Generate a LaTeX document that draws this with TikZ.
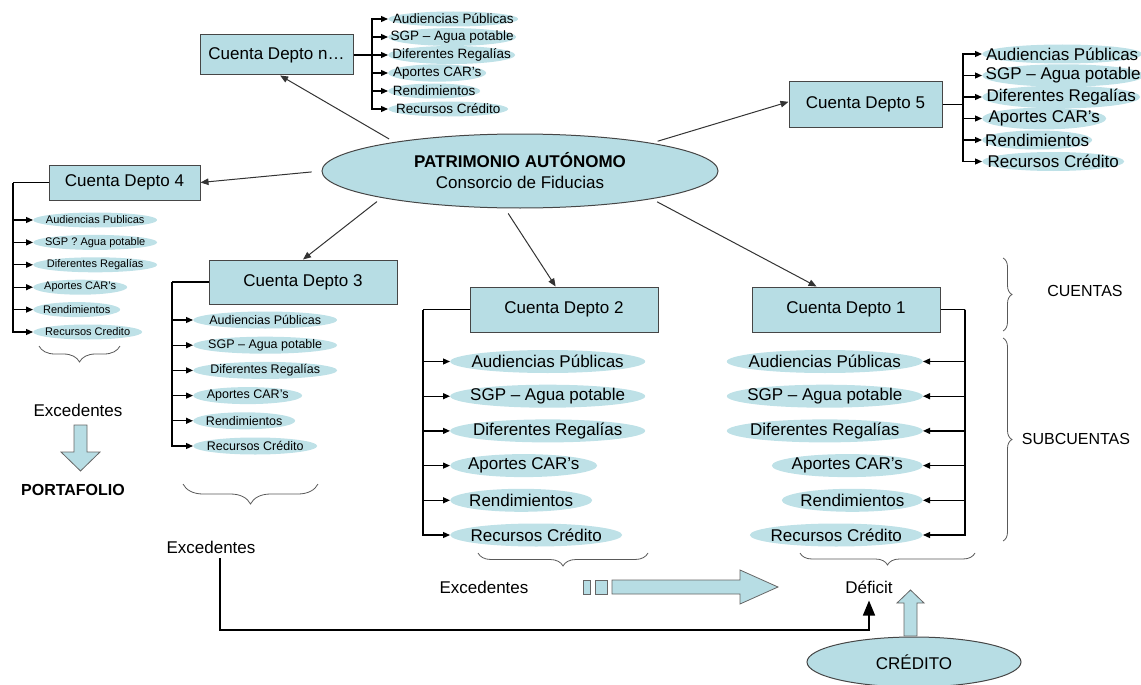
\documentclass[tikz,border=0pt]{standalone}
\usepackage{fontspec}
\setmainfont{Liberation Sans}
\usetikzlibrary{shapes.geometric,arrows.meta,decorations.pathreplacing}
\definecolor{lb}{RGB}{183,221,228}
\definecolor{hlc}{RGB}{190,225,231}
\definecolor{edge}{RGB}{70,70,70}
\newcommand\zw[1]{\makebox[0pt]{#1}}
\begin{document}
\begin{tikzpicture}[x=1pt,y=-1pt,
  box/.style={draw=edge, fill=lb, line width=1pt, inner sep=0pt, font=\fontsize{17}{20}\selectfont},
  hl/.style={ellipse, fill=hlc, inner sep=0pt},
  fn/.style={font=\fontsize{13.5}{16}\selectfont},
  ff/.style={font=\fontsize{17}{20}\selectfont},
  fc/.style={font=\fontsize{11}{13}\selectfont},
  ft/.style={font=\fontsize{12.5}{15}\selectfont},
  ln/.style={line width=1.2pt},
  arr/.style={line width=1.2pt, -{Triangle[length=7pt,width=6pt]}},
  carr/.style={draw=black!80, line width=1pt, shorten <=6pt, -{Triangle[length=8pt,width=6.5pt]}},
  lbl/.style={font=\fontsize{17}{20}\selectfont, inner sep=1pt},
  blk/.style={draw=black!60, fill=lb, line width=0.8pt},
  brc/.style={draw=black!65, line width=0.8pt, decorate, decoration={brace, amplitude=#1}},
]
\useasboundingbox (0,0) rectangle (1141,685);

% central ellipse
\node[ellipse, draw=edge, fill=lb, line width=1pt, minimum width=396pt, minimum height=74pt, inner sep=0pt, align=center, font=\fontsize{17}{21}\selectfont] (pa) at (520,171)
  {\textbf{PATRIMONIO AUTÓNOMO}\\Consorcio de Fiducias};

% account boxes
\node[box, minimum width=153pt, minimum height=40pt] (dn) at (276.5,55) {Cuenta Depto n…};
\node[box, minimum width=153pt, minimum height=45pt] (d5) at (865.5,104.5) {Cuenta Depto 5};
\node[box, minimum width=151pt, minimum height=35pt] (d4) at (124.5,182.5) {Cuenta Depto 4};
\node[box, minimum width=188pt, minimum height=44pt] (d3) at (303,282) {Cuenta Depto 3};
\node[box, minimum width=188pt, minimum height=45pt] (d2) at (564,309.5) {Cuenta Depto 2};
\node[box, minimum width=188pt, minimum height=45pt] (d1) at (846,309.5) {Cuenta Depto 1};

% connectors from central ellipse
\draw[carr] (pa.167) -- (dn.-80);
\draw[carr] (pa.12) -- (d5.178);
\draw[carr, shorten <=10pt] (pa.180) -- (d4.east);
\draw[carr] (pa.191) -- (d3.north);
\draw[carr] (pa.248) -- (d2.110);
\draw[carr] (pa.-12) -- (d1.142);

% Depto n sub-accounts
\foreach \i/\y/\w/\t in {1/19/130/Audiencias Públicas,2/37/128/SGP – Agua potable,3/55/127/Diferentes Regalías,4/73/98/Aportes CAR's,5/91/92/Rendimientos,6/109/120/Recursos Crédito}
  \node[hl, fn, minimum width=\w pt, minimum height=15pt, anchor=west] (n\i) at (388,\y) {\zw{\t}};
\coordinate (jn) at (372,55);
\draw[ln] (dn.east) -- (jn);
\foreach \i in {1,...,6} \draw[arr] (jn) |- (n\i.west);

% Depto 5 sub-accounts
\foreach \i/\y/\w/\t in {1/54/160/Audiencias Públicas,2/75.5/162/SGP – Agua potable,3/97/158/Diferentes Regalías,4/118.5/124/Aportes CAR’s,5/140/110/Rendimientos,6/161.5/142/Recursos Crédito}
  \node[hl, ff, minimum width=\w pt, minimum height=19pt, anchor=west] (f\i) at (982,\y) {\zw{\t}};
\coordinate (j5) at (963,104.5);
\draw[ln] (d5.east) -- (j5);
\foreach \i in {1,...,6} \draw[arr] (j5) |- (f\i.west);

% Depto 4 sub-accounts
\foreach \i/\y/\w/\t in {1/220/124/Audiencias Publicas,2/242.4/124/SGP ? Agua potable,3/264.8/124/Diferentes Regalías,4/287.2/94/Aportes CAR's,5/309.6/87/Rendimientos,6/332/109/Recursos Credito}
  \node[hl, fc, minimum width=\w pt, minimum height=15pt, anchor=west] (c\i) at (33,\y) {\zw{\t}};
\coordinate (j4) at (13,182.5);
\draw[ln] (d4.west) -- (j4);
\foreach \i in {1,...,6} \draw[arr] (j4) |- (c\i.west);

% Depto 3 sub-accounts
\foreach \i/\y/\w/\t in {1/320/144/Audiencias Públicas,2/345.2/144/SGP – Agua potable,3/370.4/144/Diferentes Regalías,4/395.6/109/Aportes CAR’s,5/420.8/102/Rendimientos,6/446/124/Recursos Crédito}
  \node[hl, ft, minimum width=\w pt, minimum height=17pt, anchor=west] (t\i) at (193,\y) {\zw{\t}};
\coordinate (j3) at (172,282);
\draw[ln] (d3.west) -- (j3);
\foreach \i in {1,...,6} \draw[arr] (j3) |- (t\i.west);

% Depto 2 sub-accounts
\foreach \i/\y/\w/\t in {1/361.5/195/Audiencias Públicas,2/396.2/195/SGP – Agua potable,3/430.9/195/Diferentes Regalías,4/465.6/147/Aportes CAR’s,5/500.3/142/Rendimientos,6/535/172/Recursos Crédito}
  \node[hl, ff, minimum width=\w pt, minimum height=23pt, anchor=west] (s\i) at (450,\y) {\zw{\t}};
\coordinate (j2) at (423,309.5);
\draw[ln] (d2.west) -- (j2);
\foreach \i in {1,...,6} \draw[arr] (j2) |- (s\i.west);

% Depto 1 sub-accounts
\foreach \i/\y/\w/\t in {1/361.5/196/Audiencias Públicas,2/396.2/196/SGP – Agua potable,3/430.9/196/Diferentes Regalías,4/465.6/151/Aportes CAR’s,5/500.3/141/Rendimientos,6/535/173/Recursos Crédito}
  \node[hl, ff, minimum width=\w pt, minimum height=23pt, anchor=east] (o\i) at (923,\y) {\zw{\t}};
\coordinate (j1) at (965,309.5);
\draw[ln] (d1.east) -- (j1);
\foreach \i in {1,...,6} \draw[arr] (j1) |- (o\i.east);

% right-hand braces and labels
\draw[brc=9pt] (1003,258) -- (1003,331);
\draw[brc=9pt] (1003,338) -- (1003,541);
\node[lbl, font=\fontsize{16}{19}\selectfont] (cu) at (1085,291) {CUENTAS};
\node[lbl, font=\fontsize{16}{19}\selectfont] (sc) at (1076,439) {SUBCUENTAS};

% Depto 4 excedentes -> portafolio
\draw[brc=16pt] (120,346) -- (39,346);
\node[lbl] (ex4) at (78,410) {Excedentes};
\node[lbl, font=\fontsize{16}{19}\selectfont\bfseries] (port) at (73,490) {PORTAFOLIO};
\draw[blk] (74,425) -- (87,425) -- (87,452) -- (100,452) -- (80.5,471) -- (61,452) -- (74,452) -- cycle;

% Depto 3 excedentes
\draw[brc=20pt] (318,484) -- (183,484);
\node[lbl] (ex3) at (211,547) {Excedentes};

% Depto 2 / Depto 1
\draw[brc=13pt] (648,553) -- (478,553);
\draw[brc=12pt] (975,553) -- (800,553);
\node[lbl] (ex2) at (484,587) {Excedentes};
\node[lbl] (def) at (869,587) {Déficit};
\draw[blk] (583,580) rectangle (590,594);
\draw[blk] (595,580) rectangle (607,594);
\draw[blk] (612,580) -- (740,580) -- (740,570) -- (778,587) -- (740,604) -- (740,594) -- (612,594) -- cycle;

% credit
\node[ellipse, draw=edge, fill=lb, line width=1pt, minimum width=214pt, minimum height=50pt, inner sep=0pt, font=\fontsize{17}{20}\selectfont] (cred) at (914,662) {CRÉDITO};
\draw[blk] (904,636) -- (904,603) -- (897,603) -- (910.5,590) -- (924,603) -- (917,603) -- (917,636) -- cycle;

% excedentes -> deficit line
\coordinate (cc) at (220,630);
\draw[line width=1.6pt, shorten <=4pt, shorten >=6pt, -{Triangle[length=15pt,width=12pt]}] (ex3.south -| cc) -- (cc) -| (def.south);
\end{tikzpicture}
\end{document}
